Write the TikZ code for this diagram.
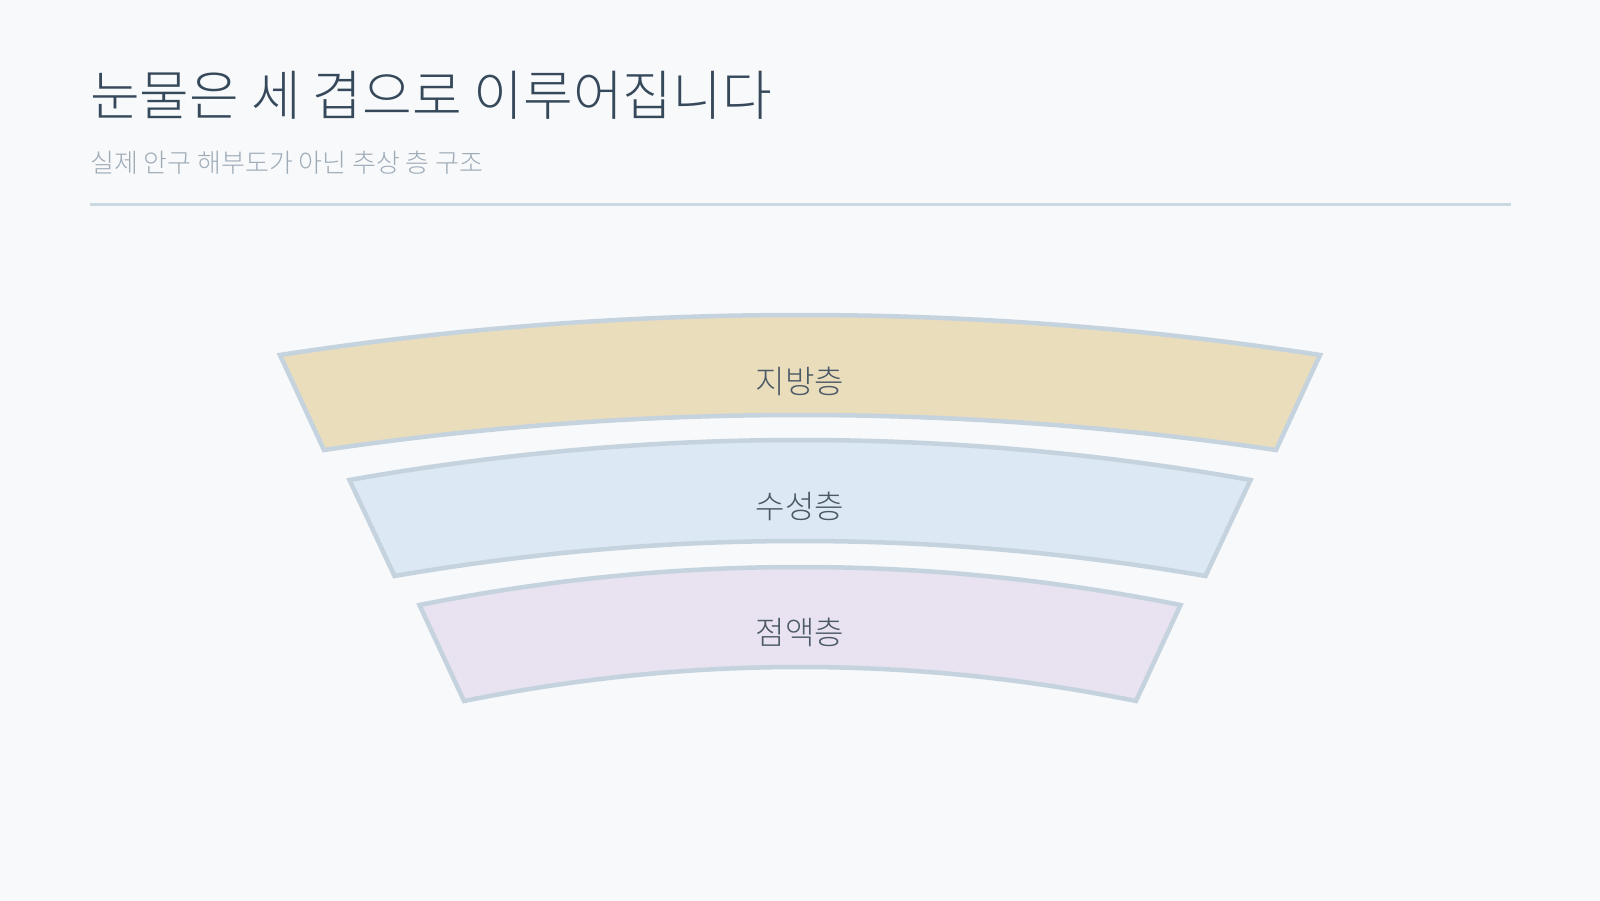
\documentclass[tikz,border=0pt]{standalone}
\usepackage{fontspec}
\newfontfamily\kr{Noto Sans CJK KR Light}
\usetikzlibrary{calc}
\definecolor{bgcol}{HTML}{F7F9FB}
\definecolor{titlecol}{HTML}{36495B}
\definecolor{subcol}{HTML}{9FACB8}
\definecolor{rulecol}{HTML}{CAD8E2}
\definecolor{edgecol}{HTML}{C5D3DE}
\definecolor{fatcol}{HTML}{E9DDBC}
\definecolor{watercol}{HTML}{DCE8F4}
\definecolor{mucuscol}{HTML}{E8E2F1}
\definecolor{labelcol}{HTML}{4B5966}
\tikzset{
  bandstyle/.style={draw=edgecol, line width=4.5pt, line join=miter},
  bandlabel/.style={font=\kr\fontsize{32}{36}\selectfont, text=labelcol, inner sep=0pt},
}
% #1 name, #2 fill, #3 top half-width, #4 top y, #5 top peak y,
% #6 bottom half-width, #7 bottom y, #8 bottom peak y
\newcommand\layerband[8]{%
  \coordinate (#1tl) at ({800-#3},#4);
  \coordinate (#1tr) at ({800+#3},#4);
  \coordinate (#1tc) at (800,{2*#5-#4});
  \coordinate (#1bl) at ({800-#6},#7);
  \coordinate (#1br) at ({800+#6},#7);
  \coordinate (#1bc) at (800,{2*#8-#7});
  \draw[bandstyle, fill=#2] (#1tl)
    .. controls ($(#1tl)!2/3!(#1tc)$) and ($(#1tr)!2/3!(#1tc)$) .. (#1tr)
    -- (#1br)
    .. controls ($(#1br)!2/3!(#1bc)$) and ($(#1bl)!2/3!(#1bc)$) .. (#1bl)
    -- cycle;
}
\begin{document}
\begin{tikzpicture}[x=1pt,y=-1pt]
\fill[bgcol] (0,0) rectangle (1600,901);
\useasboundingbox (0,0) rectangle (1600,901);

\node[anchor=base west, inner sep=0pt, text=titlecol, font=\kr\fontsize{54}{60}\selectfont] (title) at (90,116) {눈물은 세 겹으로 이루어집니다};
\node[anchor=base west, inner sep=0pt, text=subcol, font=\kr\fontsize{26}{30}\selectfont] (subtitle) at (90,173) {실제 안구 해부도가 아닌 추상 층 구조};
\coordinate (ruleL) at (90,205);
\coordinate (ruleR) at (1511,205);
\draw[rulecol, line width=3pt] (ruleL) -- (ruleR);

\layerband{fat}{fatcol}{520}{355}{315}{476}{450}{415}
\layerband{water}{watercol}{450.5}{480}{440}{405.5}{576}{541}
\layerband{mucus}{mucuscol}{380.5}{605}{567}{336}{701}{667}

\node[bandlabel] (fatlabel) at (800,381) {지방층};
\node[bandlabel] (waterlabel) at (800,506) {수성층};
\node[bandlabel] (mucuslabel) at (800,632) {점액층};
\end{tikzpicture}
\end{document}
